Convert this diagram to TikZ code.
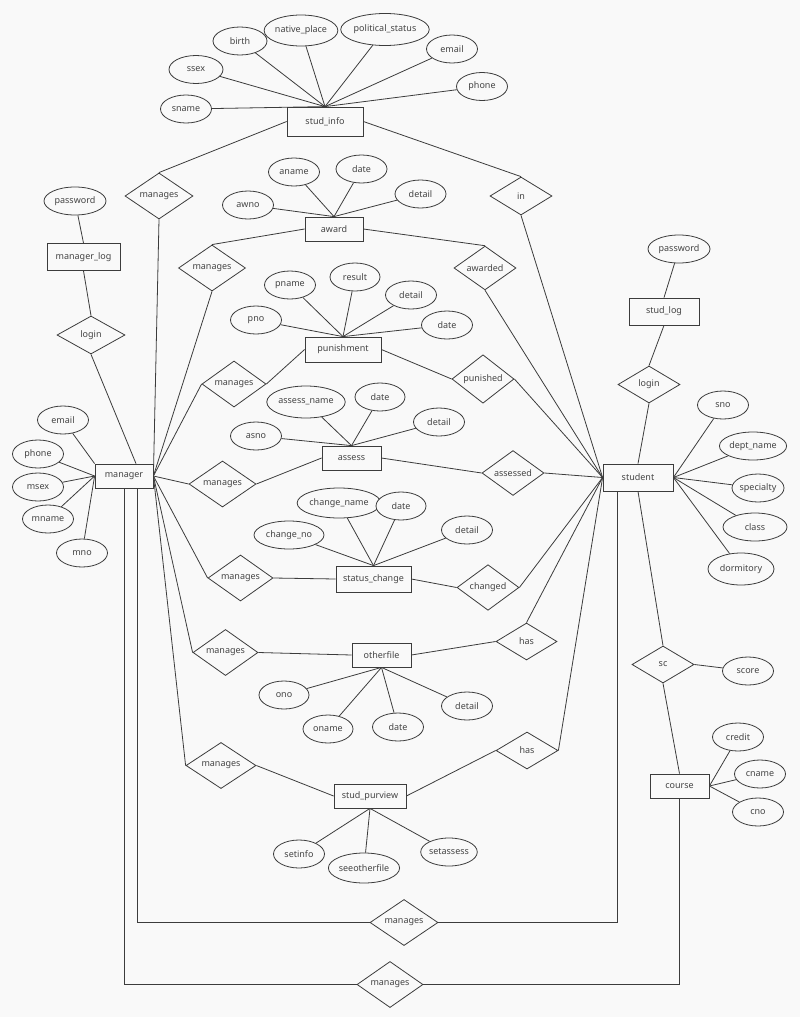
\documentclass[tikz,border=0pt]{standalone}
\usepackage{fontspec}
\setmainfont{Noto Sans}
\usetikzlibrary{shapes.geometric}
\definecolor{ln}{HTML}{3C3C3C}
\definecolor{tx}{HTML}{444444}
\definecolor{bg}{HTML}{F9F9F9}
\begin{document}
\begin{tikzpicture}[x=1pt,y=-1pt,
 every node/.style={font=\fontsize{9}{11}\selectfont, text=tx},
 ent/.style={draw=ln, line width=0.8pt, rectangle, inner sep=0pt, fill=bg},
 attr/.style={draw=ln, line width=0.8pt, ellipse, inner sep=0pt, minimum width=51pt, minimum height=28pt, fill=bg},
 rel/.style={draw=ln, line width=0.8pt, diamond, inner sep=0pt, fill=bg},
 con/.style={draw=ln, line width=0.8pt}]
\fill[bg] (0,0) rectangle (800,1017);
\useasboundingbox (0,0) rectangle (800,1017);
% entities
\node[ent, minimum width=76pt, minimum height=29pt] (studinfo) at (325,121.5) {stud\_info};
\node[ent, minimum width=58pt, minimum height=24pt] (award) at (334,229) {award};
\node[ent, minimum width=76pt, minimum height=25pt] (punishment) at (343,349.5) {punishment};
\node[ent, minimum width=59pt, minimum height=24pt] (assess) at (351.5,458) {assess};
\node[ent, minimum width=75pt, minimum height=26pt] (statuschange) at (373.5,579) {status\_change};
\node[ent, minimum width=59pt, minimum height=24pt] (otherfile) at (381.5,655) {otherfile};
\node[ent, minimum width=72pt, minimum height=24pt] (studpurview) at (370,796) {stud\_purview};
\node[ent, minimum width=58pt, minimum height=24pt] (manager) at (124,476) {manager};
\node[ent, minimum width=73pt, minimum height=27pt] (managerlog) at (83.5,257) {manager\_log};
\node[ent, minimum width=70pt, minimum height=27pt] (studlog) at (664,311.5) {stud\_log};
\node[ent, minimum width=70pt, minimum height=27pt] (student) at (638,477.5) {student};
\node[ent, minimum width=59pt, minimum height=24pt] (course) at (679.5,786) {course};
% relationships
\node[rel, minimum width=68pt, minimum height=38pt] (m1) at (159,196) {manages};
\node[rel, minimum width=62pt, minimum height=38pt] (rin) at (521,196) {in};
\node[rel, minimum width=67pt, minimum height=36pt] (m2) at (212,268) {manages};
\node[rel, minimum width=62pt, minimum height=36pt] (awarded) at (485,268) {awarded};
\node[rel, minimum width=64pt, minimum height=40pt] (m3) at (234,384) {manages};
\node[rel, minimum width=62pt, minimum height=39pt] (punished) at (483,379) {punished};
\node[rel, minimum width=67pt, minimum height=40pt] (m4) at (222.5,484) {manages};
\node[rel, minimum width=62pt, minimum height=38pt] (assessed) at (513,473) {assessed};
\node[rel, minimum width=65pt, minimum height=38pt] (m5) at (240.5,578) {manages};
\node[rel, minimum width=62pt, minimum height=39pt] (changed) at (488,587.5) {changed};
\node[rel, minimum width=65pt, minimum height=39pt] (m6) at (225.5,652.5) {manages};
\node[rel, minimum width=61pt, minimum height=37pt] (has1) at (526.5,641.5) {has};
\node[rel, minimum width=70pt, minimum height=38pt] (m7) at (221,765.5) {manages};
\node[rel, minimum width=62pt, minimum height=37pt] (has2) at (527,750.5) {has};
\node[rel, minimum width=62pt, minimum height=37pt] (sc) at (663,664.5) {sc};
\node[rel, minimum width=68pt, minimum height=38pt] (loginm) at (91,335) {login};
\node[rel, minimum width=62pt, minimum height=37pt] (logins) at (649,384.5) {login};
\node[rel, minimum width=68pt, minimum height=39pt] (m8) at (404,922.5) {manages};
\node[rel, minimum width=66pt, minimum height=39pt] (m9) at (390,984.5) {manages};
% attributes
\node[attr] (sname) at (186,109) {sname};
\node[attr, minimum width=54pt] (ssex) at (196,69.5) {ssex};
\node[attr, minimum width=54pt] (birth) at (240,41) {birth};
\node[attr, minimum width=64pt, minimum height=31pt] (nativeplace) at (301,30.5) {native\_place};
\node[attr, minimum width=76pt, minimum height=32pt] (polstatus) at (385,29.5) {political\_status};
\node[attr] (semail) at (452,49) {email};
\node[attr] (sphone) at (482,86.5) {phone};
\node[attr] (awno) at (248,205) {awno};
\node[attr] (aname) at (294,172) {aname};
\node[attr] (adate) at (361.5,169) {date};
\node[attr] (adetail) at (420.5,194) {detail};
\node[attr] (pno) at (256,320) {pno};
\node[attr] (pname) at (290,285) {pname};
\node[attr, minimum width=50pt] (result) at (355,277) {result};
\node[attr] (pdetail) at (411,295) {detail};
\node[attr] (pdate) at (447,325) {date};
\node[attr] (asno) at (256,436) {asno};
\node[attr, minimum width=76pt, minimum height=32pt] (assessname) at (306,402) {assess\_name};
\node[attr, minimum width=50pt] (asdate) at (380,397) {date};
\node[attr] (asdetail) at (439,422) {detail};
\node[attr, minimum width=70pt] (changeno) at (289,535) {change\_no};
\node[attr, minimum width=74pt, minimum height=30pt] (changename) at (339,503) {change\_name};
\node[attr, minimum width=50pt] (cdate) at (401,506) {date};
\node[attr] (cdetail) at (467,530) {detail};
\node[attr, minimum width=50pt] (ono) at (284,695) {ono};
\node[attr, minimum width=50pt] (oname) at (328,729) {oname};
\node[attr] (odate) at (398,727) {date};
\node[attr] (odetail) at (467,706) {detail};
\node[attr] (setinfo) at (299,854) {setinfo};
\node[attr, minimum width=66pt, minimum height=30pt] (seeotherfile) at (364,868) {seeotherfile};
\node[attr] (setassess) at (449,852) {setassess};
\node[attr, minimum width=62pt] (mpassword) at (75,201) {password};
\node[attr] (memail) at (63,420) {email};
\node[attr] (mphone) at (38,454) {phone};
\node[attr] (msex) at (38,487) {msex};
\node[attr] (mname) at (48,519) {mname};
\node[attr] (mno) at (82,553) {mno};
\node[attr, minimum width=62pt] (spassword) at (679,249) {password};
\node[attr] (sno) at (723,405) {sno};
\node[attr, minimum width=66pt] (deptname) at (753,446) {dept\_name};
\node[attr] (specialty) at (758,488) {specialty};
\node[attr, minimum width=64pt] (class) at (755,527) {class};
\node[attr, minimum width=66pt, minimum height=32pt] (dormitory) at (741,569) {dormitory};
\node[attr] (score) at (748,671) {score};
\node[attr] (credit) at (738,737) {credit};
\node[attr] (cname) at (760,774) {cname};
\node[attr] (cno) at (758,812) {cno};
% attribute links
\foreach \a in {sname,ssex,birth,nativeplace,polstatus,semail,sphone}
  \draw[con] (\a) -- (studinfo.north);
\foreach \a in {awno,aname,adate,adetail}
  \draw[con] (\a) -- (award.north);
\foreach \a in {pno,pname,result,pdetail,pdate}
  \draw[con] (\a) -- (punishment.north);
\foreach \a in {asno,assessname,asdate,asdetail}
  \draw[con] (\a) -- (assess.north);
\foreach \a in {changeno,changename,cdate,cdetail}
  \draw[con] (\a) -- (statuschange.north);
\foreach \a in {ono,oname,odate,odetail}
  \draw[con] (\a) -- (otherfile.south);
\foreach \a in {setinfo,seeotherfile,setassess}
  \draw[con] (\a) -- (studpurview.south);
\draw[con] (memail) -- (manager.north west);
\foreach \a in {mphone,msex,mname,mno}
  \draw[con] (\a) -- (manager.west);
\foreach \a in {sno,deptname,specialty,class,dormitory}
  \draw[con] (\a) -- (student.east);
\foreach \a in {credit,cname,cno}
  \draw[con] (\a) -- (course.east);
\draw[con] (score) -- (sc.east);
% relationship links
\draw[con] (studinfo.west) -- (m1.north);
\draw[con] (m1.south) -- (manager.east);
\draw[con] (studinfo.east) -- (rin.north);
\draw[con] (rin.south) -- (student.west);
\draw[con] (award.west) -- (m2.north);
\draw[con] (m2.south) -- (manager.east);
\draw[con] (award.east) -- (awarded.north);
\draw[con] (awarded.south) -- (student.west);
\draw[con] (punishment.west) -- (m3.east);
\draw[con] (m3.west) -- (manager.east);
\draw[con] (punishment.east) -- (punished.west);
\draw[con] (punished.east) -- (student.west);
\draw[con] (assess.west) -- (m4.east);
\draw[con] (m4.west) -- (manager.east);
\draw[con] (assess.east) -- (assessed.west);
\draw[con] (assessed.east) -- (student.west);
\draw[con] (statuschange.west) -- (m5.east);
\draw[con] (m5.west) -- (manager.east);
\draw[con] (statuschange.east) -- (changed.west);
\draw[con] (changed.east) -- (student.west);
\draw[con] (otherfile.west) -- (m6.east);
\draw[con] (m6.west) -- (manager.east);
\draw[con] (otherfile.east) -- (has1.west);
\draw[con] (has1.north) -- (student.west);
\draw[con] (studpurview.west) -- (m7.east);
\draw[con] (m7.west) -- (manager.east);
\draw[con] (studpurview.east) -- (has2.west);
\draw[con] (has2.east) -- (student.west);
\draw[con] (mpassword) -- (managerlog.north);
\draw[con] (managerlog.south) -- (loginm.north);
\draw[con] (loginm.south) -- ([xshift=12pt]manager.north);
\draw[con] (spassword) -- (studlog.north);
\draw[con] (studlog.south) -- (logins.north);
\draw[con] (logins.south) -- (student.north);
\draw[con] (sc.north) -- (student.south);
\draw[con] (sc.south) -- (course.north);
\draw[con] ([xshift=13pt]manager.south) |- (m8.west);
\draw[con] (m8.east) -| ([xshift=-21pt]student.south);
\draw[con] (manager.south) |- (m9.west);
\draw[con] (m9.east) -| (course.south);
\end{tikzpicture}
\end{document}
